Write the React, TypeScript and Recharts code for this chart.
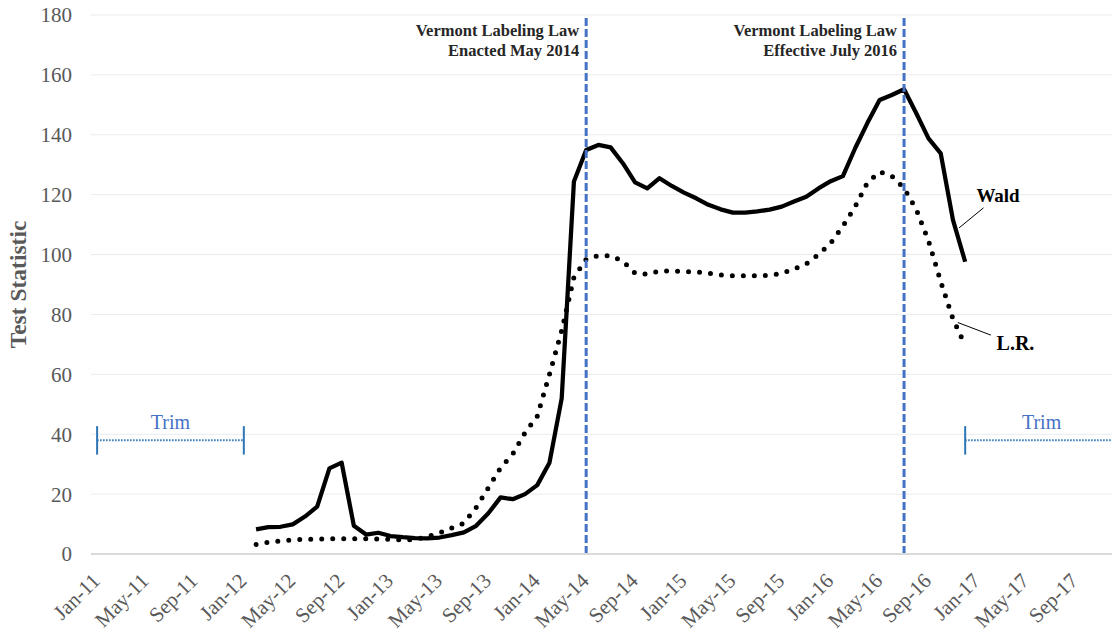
import {
    LineChart,
    Line,
    XAxis,
    YAxis,
    CartesianGrid,
    ReferenceLine,
    ReferenceDot,
} from 'recharts';

// month index 0 = Jan-11, one row per month up to Dec-17
const tickLabels = [
    'Jan-11', 'May-11', 'Sep-11', 'Jan-12', 'May-12', 'Sep-12', 'Jan-13', 'May-13', 'Sep-13',
    'Jan-14', 'May-14', 'Sep-14', 'Jan-15', 'May-15', 'Sep-15', 'Jan-16', 'May-16', 'Sep-16',
    'Jan-17', 'May-17', 'Sep-17',
];
const monthCount = 84;
const firstIndex = 13; // Feb-12

const waldValues = [
    8.2, 9.0, 9.1, 9.9, 12.5, 15.8, 28.6, 30.5, 9.4, 6.5,
    7.1, 6.0, 5.6, 5.3, 5.2, 5.5, 6.3, 7.2, 9.4, 13.6,
    18.9, 18.3, 20.0, 23.0, 30.5, 52.0, 124.4, 134.9, 136.6, 135.8,
    130.5, 124.1, 122.1, 125.5, 122.9, 120.7, 118.8, 116.6, 115.1, 114.0,
    114.0, 114.4, 115.0, 116.0, 117.7, 119.3, 122.1, 124.5, 126.2, 135.5,
    143.9, 151.6, 153.3, 155.2, 147.2, 138.8, 133.8, 111.6, 97.6,
];

const lrValues = [
    3.2, 3.9, 4.4, 4.7, 4.9, 5.0, 5.1, 5.1, 5.1, 5.1,
    5.0, 4.9, 4.7, 4.8, 5.8, 7.0, 8.7, 10.3, 15.5, 22.1,
    28.8, 33.4, 40.5, 46.0, 60.0, 74.6, 92.4, 98.4, 99.7, 99.6,
    97.8, 93.8, 93.4, 94.5, 94.5, 94.3, 94.2, 93.8, 93.2, 92.9,
    92.9, 92.9, 93.1, 93.7, 95.2, 96.9, 100.0, 103.8, 109.5, 116.0,
    124.0, 127.6, 126.2, 122.2, 115.1, 104.6, 91.0, 78.5, 69.6,
];

const yTicks = [0, 20, 40, 60, 80, 100, 120, 140, 160, 180];

const enactedIndex = 40; // May-14
const effectiveIndex = 66; // Jul-16
const trimLevel = 38;

const data = Array.from({ length: monthCount }, (_, i) => {
    const k = i - firstIndex;
    return {
        i,
        wald: k >= 0 && k < waldValues.length ? waldValues[k] : null,
        lr: k >= 0 && k < lrValues.length ? lrValues[k] : null,
    };
});

const FONT = "'Liberation Serif', 'Times New Roman', serif";
const BLUE = '#4472C4';
const TRIM_BLUE = '#2E75B6';

function MonthTick(props: any) {
    const { x, y, payload } = props;
    const label = tickLabels[Math.round(payload.value / 4)];
    return (
        <text
            transform={`translate(${x + 4},${y + 26}) rotate(-45)`}
            textAnchor="end"
            fill="#595959"
            fontSize={21}
            fontFamily={FONT}
        >
            {label}
        </text>
    );
}

function LawLabel(lines: string[]) {
    return (props: any) => {
        const { viewBox } = props;
        return (
            <text
                x={viewBox.x - 7}
                y={viewBox.y + 21}
                textAnchor="end"
                fontSize={16.5}
                fontWeight="bold"
                fontFamily={FONT}
                fill="#262626"
            >
                <tspan x={viewBox.x - 7}>{lines[0]}</tspan>
                <tspan x={viewBox.x - 7} dy={20}>{lines[1]}</tspan>
            </text>
        );
    };
}

function TrimLabel(props: any) {
    const { viewBox } = props;
    return (
        <text
            x={viewBox.x + viewBox.width / 2}
            y={viewBox.y - 11}
            textAnchor="middle"
            fontSize={20}
            fontFamily={FONT}
            fill={BLUE}
        >
            Trim
        </text>
    );
}

function SeriesName(name: string, size: number) {
    return (props: any) => {
        const { viewBox } = props;
        return (
            <text
                x={viewBox.x}
                y={viewBox.y}
                fontSize={size}
                fontWeight="bold"
                fontFamily={FONT}
                fill="#000"
            >
                {name}
            </text>
        );
    };
}

export default function App() {
    return (
        <div
            style={{
                position: 'fixed',
                left: 0,
                top: 0,
                width: 1112,
                height: 638,
                overflow: 'hidden',
                background: '#fff',
            }}
        >
            <LineChart
                width={1118}
                height={638}
                data={data}
                margin={{ top: 15, right: 0, left: 0, bottom: 0 }}
            >
                <CartesianGrid horizontal vertical={false} stroke="#EBEBEB" strokeWidth={1} />
                <XAxis
                    dataKey="i"
                    type="number"
                    domain={[-0.5, monthCount - 0.5]}
                    ticks={tickLabels.map((_, k) => k * 4)}
                    interval={0}
                    tick={<MonthTick />}
                    tickLine={false}
                    tickSize={0}
                    axisLine={{ stroke: '#D9D9D9', strokeWidth: 2 }}
                    height={84}
                />
                <YAxis
                    domain={[0, 180]}
                    ticks={yTicks}
                    width={91}
                    axisLine={false}
                    tickLine={false}
                    tickSize={0}
                    tickMargin={19}
                    tick={{ fontSize: 21, fill: '#595959', fontFamily: FONT }}
                    label={{
                        value: 'Test Statistic',
                        angle: -90,
                        position: 'insideLeft',
                        offset: 18,
                        style: {
                            textAnchor: 'middle',
                            fontSize: 23.5,
                            fontWeight: 'bold',
                            fill: '#595959',
                            fontFamily: FONT,
                        },
                    }}
                />

                {/* trim windows */}
                <ReferenceLine
                    segment={[{ x: 0, y: trimLevel }, { x: 12, y: trimLevel }]}
                    stroke={TRIM_BLUE}
                    strokeWidth={2}
                    strokeDasharray="1.5 1.5"
                    label={<TrimLabel />}
                />
                <ReferenceLine segment={[{ x: 0, y: 33.2 }, { x: 0, y: 42.7 }]} stroke={TRIM_BLUE} strokeWidth={2} />
                <ReferenceLine segment={[{ x: 12, y: 33.2 }, { x: 12, y: 42.7 }]} stroke={TRIM_BLUE} strokeWidth={2} />
                <ReferenceLine
                    segment={[{ x: 71, y: trimLevel }, { x: monthCount - 0.5, y: trimLevel }]}
                    stroke={TRIM_BLUE}
                    strokeWidth={2}
                    strokeDasharray="1.5 1.5"
                    label={<TrimLabel />}
                />
                <ReferenceLine segment={[{ x: 71, y: 33.2 }, { x: 71, y: 42.7 }]} stroke={TRIM_BLUE} strokeWidth={2} />

                <Line
                    type="linear"
                    dataKey="lr"
                    stroke="#000"
                    strokeWidth={5}
                    strokeDasharray="0 11"
                    strokeLinecap="round"
                    dot={false}
                    activeDot={false}
                    connectNulls={false}
                    isAnimationActive={false}
                />
                <Line
                    type="linear"
                    dataKey="wald"
                    stroke="#000"
                    strokeWidth={4.25}
                    strokeLinejoin="round"
                    dot={false}
                    activeDot={false}
                    connectNulls={false}
                    isAnimationActive={false}
                />

                <ReferenceLine
                    x={enactedIndex}
                    stroke={BLUE}
                    strokeWidth={3}
                    strokeDasharray="8 3"
                    label={LawLabel(['Vermont Labeling Law', 'Enacted May 2014'])}
                />
                <ReferenceLine
                    x={effectiveIndex}
                    stroke={BLUE}
                    strokeWidth={3}
                    strokeDasharray="8 3"
                    label={LawLabel(['Vermont Labeling Law', 'Effective July 2016'])}
                />

                {/* series call-outs */}
                <ReferenceLine segment={[{ x: 72.5, y: 115.6 }, { x: 70.5, y: 108.9 }]} stroke="#000" strokeWidth={1} />
                <ReferenceLine segment={[{ x: 70.4, y: 77.3 }, { x: 73.1, y: 73.1 }]} stroke="#000" strokeWidth={1} />
                <ReferenceDot x={72} y={117.2} r={1} fill="none" stroke="none" label={SeriesName('Wald', 19)} />
                <ReferenceDot x={73.65} y={67.8} r={1} fill="none" stroke="none" label={SeriesName('L.R.', 20)} />
            </LineChart>
        </div>
    );
}
